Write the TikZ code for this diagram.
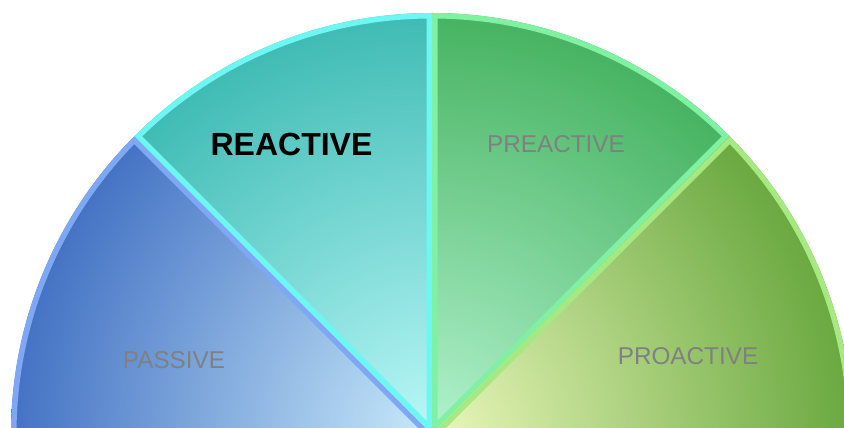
\documentclass[tikz,border=0pt]{standalone}
\usepackage{fontspec}
\setmainfont{Liberation Sans}
\definecolor{pasOut}{HTML}{4472C4}
\definecolor{pasIn}{HTML}{C8EAFA}
\definecolor{pasBd}{HTML}{7FA8F4}
\definecolor{reaOut}{HTML}{3FBBB4}
\definecolor{reaIn}{HTML}{BAF8F8}
\definecolor{reaBd}{HTML}{6EF6F2}
\definecolor{preOut}{HTML}{46B361}
\definecolor{preIn}{HTML}{B2F2CE}
\definecolor{preBd}{HTML}{80F0A2}
\definecolor{proOut}{HTML}{69A83F}
\definecolor{proIn}{HTML}{EAF7BA}
\definecolor{proBd}{HTML}{A6E882}
\definecolor{lblgray}{HTML}{808080}
\tikzset{
  lbl/.style={text=lblgray, font=\fontsize{24.3}{28}\selectfont, anchor=base, inner sep=0pt},
  lblbold/.style={text=black, font=\fontsize{32}{36}\selectfont\bfseries, anchor=base, inner sep=0pt},
}
\newcommand{\mywedge}[5]{%
  \begin{scope}
    \clip (C) -- +(#1:421pt) arc[start angle=#1, end angle=#2, radius=421pt] -- cycle;
    \shade[inner color=#3, outer color=#4] (C) circle[radius=421pt];
    \draw[#5, line width=11pt, line join=miter] (C) -- +(#1:421pt) arc[start angle=#1, end angle=#2, radius=421pt] -- cycle;
  \end{scope}}
\begin{document}
\begin{tikzpicture}[x=1pt,y=1pt]
\useasboundingbox (0,0) rectangle (844,428);
\clip (0,0) rectangle (844,428);
\coordinate (C) at (432,-6);
\mywedge{135}{180}{pasIn}{pasOut}{pasBd}
\mywedge{90}{135}{reaIn}{reaOut}{reaBd}
\mywedge{45}{90}{preIn}{preOut}{preBd}
\mywedge{0}{45}{proIn}{proOut}{proBd}
\node[lblbold] (reactive) at (291.5,272) {REACTIVE};
\node[lbl] (passive) at (174,59.7) {PASSIVE};
\node[lbl] (preactive) at (556,275.7) {PREACTIVE};
\node[lbl] (proactive) at (688,63) {PROACTIVE};
\end{tikzpicture}
\end{document}
